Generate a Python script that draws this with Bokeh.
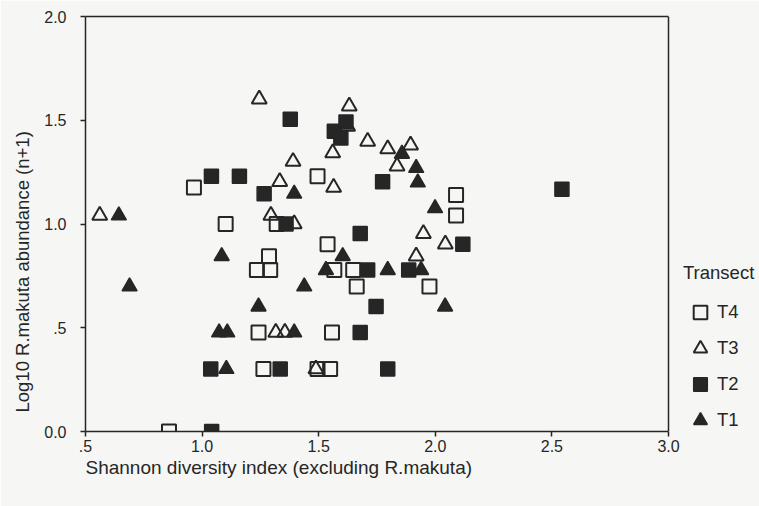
from bokeh.plotting import figure
from bokeh.models import Range1d, FixedTicker, Legend, LegendItem, Title, LinearAxis
from bokeh.embed import file_html
from bokeh.resources import INLINE

# ---------------- data ----------------
# T4 : open squares
t4_x = [1.495, 0.965, 1.101, 1.320, 2.089, 2.089, 1.538, 1.287, 1.235, 1.292,
        1.567, 1.648, 1.663, 1.975, 1.242, 1.557, 1.263, 1.495, 1.549, 0.858]
t4_y = [1.230, 1.176, 1.000, 1.000, 1.140, 1.041, 0.903, 0.845, 0.778, 0.778,
        0.778, 0.778, 0.699, 0.699, 0.477, 0.477, 0.301, 0.301, 0.301, 0.000]
# T3 : open triangles
t3_x = [1.245, 1.631, 1.624, 1.560, 1.390, 1.333, 1.564, 0.561, 1.295, 1.395,
        1.710, 1.796, 1.894, 1.836, 1.949, 2.043, 1.918, 1.316, 1.355, 1.488]
t3_y = [1.602, 1.568, 1.470, 1.342, 1.301, 1.204, 1.176, 1.041, 1.041, 1.000,
        1.398, 1.362, 1.380, 1.279, 0.954, 0.903, 0.845, 0.477, 0.477, 0.301]
# T2 : filled squares
t2_x = [1.378, 1.617, 1.567, 1.595, 1.040, 1.160, 1.266, 1.360, 1.774, 1.678,
        2.543, 2.118, 1.710, 1.886, 1.746, 1.678, 1.037, 1.335, 1.796, 1.041]
t2_y = [1.505, 1.491, 1.447, 1.415, 1.230, 1.230, 1.146, 1.000, 1.204, 0.954,
        1.167, 0.903, 0.778, 0.778, 0.602, 0.477, 0.301, 0.301, 0.301, 0.000]
# T1 : filled triangles
t1_x = [1.395, 0.643, 0.689, 1.857, 1.918, 1.925, 1.999, 1.084, 1.603, 1.531,
        1.796, 1.939, 1.438, 1.242, 2.042, 1.073, 1.108, 1.395, 1.104]
t1_y = [1.146, 1.041, 0.699, 1.338, 1.270, 1.200, 1.076, 0.845, 0.845, 0.778,
        0.778, 0.778, 0.699, 0.602, 0.602, 0.477, 0.477, 0.477, 0.301]

x_ticks = [0.5, 1.0, 1.5, 2.0, 2.5, 3.0]
x_tick_labels = [".5", "1.0", "1.5", "2.0", "2.5", "3.0"]
y_ticks = [0.0, 0.5, 1.0, 1.5, 2.0]
y_tick_labels = ["0.0", ".5", "1.0", "1.5", "2.0"]

x_title = "Shannon diversity index (excluding R.makuta)"
y_title = "Log10 R.makuta abundance (n+1)"
legend_title = "Transect"
series_names = ["T4", "T3", "T2", "T1"]

# ---------------- styling ----------------
FONT = "Liberation Sans"
INK = "#262626"
BG = "#f6f6f4"

W, H = 759, 506
LEFT, TOP, BOTTOM = 85, 16, 75
x_min, x_max = x_ticks[0], x_ticks[-1]
y_min, y_max = y_ticks[0], y_ticks[-1]
AXIS_PX = 583                      # on-screen length of the .5 .. 3.0 axis
frame_w = W - LEFT                 # frame runs to the right edge; legend sits in it
x_end = x_min + frame_w * (x_max - x_min) / AXIS_PX

p = figure(width=W, height=H, x_range=Range1d(x_min, x_end), y_range=Range1d(y_min, y_max),
           output_backend="svg", toolbar_location=None,
           min_border_left=LEFT, min_border_right=0, min_border_top=TOP, min_border_bottom=BOTTOM)
p.outline_line_color = None
p.grid.visible = False
p.background_fill_color = BG
p.border_fill_color = BG

for ax, ticks, labels, bnds in ((p.xaxis[0], x_ticks, x_tick_labels, (x_min, x_max)),
                                (p.yaxis[0], y_ticks, y_tick_labels, (y_min, y_max))):
    ax.ticker = FixedTicker(ticks=ticks)
    ax.major_label_overrides = {float(t): l for t, l in zip(ticks, labels)}
    ax.bounds = bnds
    ax.minor_tick_line_color = None
    ax.major_tick_in = 0
    ax.major_tick_out = 5
    ax.axis_line_color = INK
    ax.axis_line_width = 1.5
    ax.major_tick_line_color = INK
    ax.major_tick_line_width = 1.5
    ax.major_label_text_font = FONT
    ax.major_label_text_font_size = "16px"
    ax.major_label_text_color = INK
p.xaxis.major_label_standoff = 3
p.yaxis.major_label_standoff = 14

# top edge of the plot box
top_axis = LinearAxis(bounds=(x_min, x_max), ticker=FixedTicker(ticks=[]),
                      major_label_text_font_size="0px", major_tick_in=0, major_tick_out=0,
                      minor_tick_in=0, minor_tick_out=0, major_label_standoff=0,
                      axis_line_color=INK, axis_line_width=1.5)
p.add_layout(top_axis, "above")
# right edge of the plot box (at x = 3.0)
p.segment(x0=[x_max], y0=[y_min], x1=[x_max], y1=[y_max], line_color=INK, line_width=1.5)

SZ = 14
r4 = p.scatter(t4_x, t4_y, marker="square", size=SZ, fill_alpha=0, line_color=INK, line_width=2)
r3 = p.scatter(t3_x, t3_y, marker="triangle", size=SZ + 1, fill_alpha=0, line_color=INK, line_width=2)
r2 = p.scatter(t2_x, t2_y, marker="square", size=SZ, fill_color=INK, line_color=INK, line_width=1.5)
r1 = p.scatter(t1_x, t1_y, marker="triangle", size=SZ + 1, fill_color=INK, line_color=INK, line_width=1.5)

legend = Legend(items=[LegendItem(label=n, renderers=[r]) for n, r in zip(series_names, [r4, r3, r2, r1])],
                location=(598, -7), title=legend_title,
                title_text_font=FONT, title_text_font_size="18.5px", title_text_font_style="normal",
                title_text_color=INK, title_standoff=10,
                label_text_font=FONT, label_text_font_size="18.5px", label_text_color=INK,
                glyph_width=34, glyph_height=36, label_height=36, spacing=0, label_standoff=0,
                padding=0, margin=0, background_fill_alpha=0, border_line_alpha=0)
p.add_layout(legend)

p.add_layout(Title(text=x_title, align="left", offset=0, standoff=0, text_font=FONT,
                   text_font_size="19px", text_font_style="normal", text_color=INK), "below")
p.add_layout(Title(text=y_title, align="left", offset=19, standoff=18, text_font=FONT,
                   text_font_size="18.5px", text_font_style="normal", text_color=INK), "left")

open("out.html", "w").write(file_html(p, INLINE))
